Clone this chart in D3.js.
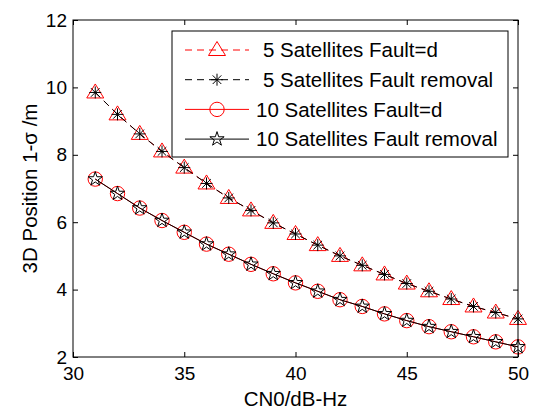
<!DOCTYPE html>
<html>
<head>
<meta charset="utf-8">
<script src="https://cdn.jsdelivr.net/npm/d3@7"></script>
<style>
  body { margin: 0; background: #fff; }
  svg text { font-family: "Liberation Sans", Arial, sans-serif; fill: #000; }
</style>
</head>
<body>
<div id="chart"></div>
<script>
// data
const cn0 = [31, 32, 33, 34, 35, 36, 37, 38, 39, 40, 41, 42, 43, 44, 45, 46, 47, 48, 49, 50];
const sat5Fault = [9.85, 9.2, 8.62, 8.1, 7.62, 7.15, 6.72, 6.35, 5.98, 5.65, 5.32, 5.0, 4.72, 4.45, 4.18, 3.95, 3.72, 3.5, 3.32, 3.13];
const sat5Removal = [9.85, 9.2, 8.62, 8.1, 7.62, 7.15, 6.72, 6.35, 5.98, 5.65, 5.32, 5.0, 4.72, 4.45, 4.18, 3.95, 3.72, 3.5, 3.32, 3.13];
const sat10Fault = [7.28, 6.85, 6.42, 6.05, 5.7, 5.35, 5.05, 4.75, 4.47, 4.2, 3.95, 3.7, 3.5, 3.28, 3.08, 2.9, 2.75, 2.6, 2.45, 2.3];
const sat10Removal = [7.28, 6.85, 6.42, 6.05, 5.7, 5.35, 5.05, 4.75, 4.47, 4.2, 3.95, 3.7, 3.5, 3.28, 3.08, 2.9, 2.75, 2.6, 2.45, 2.3];
const xTicks = [30, 35, 40, 45, 50];
const yTicks = [2, 4, 6, 8, 10, 12];
const seriesNames = ["5 Satellites Fault=d", "5 Satellites Fault removal", "10 Satellites Fault=d", "10 Satellites Fault removal"];

const width = 536, height = 410;
const margin = { left: 73, right: 18, top: 20, bottom: 53 };
const tickFont = 19;
const labelFont = 20.5;

const svg = d3.select("#chart").append("svg")
    .attr("width", width)
    .attr("height", height);

const x = d3.scaleLinear().domain([30, 50]).range([margin.left, width - margin.right]);
const y = d3.scaleLinear().domain([2, 12]).range([height - margin.bottom, margin.top]);

// marker shapes
function triangle(g, color) {
    g.append("path").attr("d", "M0,-8.5L8.5,5.5L-8.5,5.5Z")
        .attr("fill", "none").attr("stroke", color).attr("stroke-width", 1);
}
function asterisk(g, color) {
    g.append("path").attr("d", "M-6,0H6M0,-6V6M-4.3,-4.3L4.3,4.3M-4.3,4.3L4.3,-4.3")
        .attr("fill", "none").attr("stroke", color).attr("stroke-width", 1);
}
function circle(g, color) {
    g.append("circle").attr("r", 7.2)
        .attr("fill", "none").attr("stroke", color).attr("stroke-width", 1);
}
function star(g, color) {
    const R = 7.5, r = R * 0.382;
    const pts = d3.range(10).map(i => {
        const a = -Math.PI / 2 + i * Math.PI / 5;
        const rr = i % 2 ? r : R;
        return [rr * Math.cos(a), rr * Math.sin(a)];
    });
    g.append("path").attr("d", "M" + pts.join("L") + "Z")
        .attr("fill", "none").attr("stroke", color).attr("stroke-width", 1);
}

const series = [
    { name: seriesNames[0], values: sat5Fault, color: "#ff0000", dash: "7,5", marker: triangle, tx: 263 },
    { name: seriesNames[1], values: sat5Removal, color: "#000000", dash: "7,5", marker: asterisk, tx: 263 },
    { name: seriesNames[2], values: sat10Fault, color: "#ff0000", dash: null, marker: circle, tx: 256 },
    { name: seriesNames[3], values: sat10Removal, color: "#000000", dash: null, marker: star, tx: 256 }
];

const line = d3.line().x((d, i) => x(cn0[i])).y(d => y(d));

series.forEach(s => {
    svg.append("path")
        .datum(s.values)
        .attr("d", line)
        .attr("fill", "none")
        .attr("stroke", s.color)
        .attr("stroke-width", 1)
        .attr("stroke-dasharray", s.dash);
    svg.append("g").selectAll("g")
        .data(s.values)
        .join("g")
        .attr("transform", (d, i) => `translate(${x(cn0[i])},${y(d)})`)
        .each(function () { s.marker(d3.select(this), s.color); });
});

// axes with inward ticks
const bottom = svg.append("g")
    .attr("transform", `translate(0,${y(2)})`)
    .call(d3.axisBottom(x).tickValues(xTicks).tickSizeInner(-5).tickSizeOuter(0).tickPadding(10));
const left = svg.append("g")
    .attr("transform", `translate(${x(30)},0)`)
    .call(d3.axisLeft(y).tickValues(yTicks).tickSizeInner(-5).tickSizeOuter(0).tickPadding(6));
svg.append("g")
    .attr("transform", `translate(0,${y(12)})`)
    .call(d3.axisTop(x).tickValues(xTicks).tickSizeInner(-5).tickSizeOuter(0).tickFormat(""));
svg.append("g")
    .attr("transform", `translate(${x(50)},0)`)
    .call(d3.axisRight(y).tickValues(yTicks).tickSizeInner(-5).tickSizeOuter(0).tickFormat(""));

svg.selectAll(".domain").remove();
svg.selectAll(".tick line").attr("stroke", "#000");
[bottom, left].forEach(a => a.selectAll("text")
    .attr("font-size", tickFont)
    .style("font-family", "'Liberation Sans', Arial, sans-serif")
    .attr("fill", "#000"));

svg.append("rect")
    .attr("x", x(30)).attr("y", y(12))
    .attr("width", x(50) - x(30)).attr("height", y(2) - y(12))
    .attr("fill", "none").attr("stroke", "#000").attr("stroke-width", 1);

// axis titles
svg.append("text")
    .attr("x", (x(30) + x(50)) / 2).attr("y", 406)
    .attr("text-anchor", "middle")
    .attr("font-size", labelFont)
    .text("CN0/dB-Hz");

svg.append("text")
    .attr("transform", `translate(37,${(y(2) + y(12)) / 2}) rotate(-90)`)
    .attr("text-anchor", "middle")
    .attr("font-size", labelFont)
    .text("3D Position 1-\u03c3 /m");

// legend
const legend = svg.append("g");
legend.append("rect")
    .attr("x", 172).attr("y", 31).attr("width", 336).attr("height", 126)
    .attr("fill", "#fff").attr("stroke", "#000").attr("stroke-width", 1);

series.forEach((s, i) => {
    const row = legend.append("g").attr("transform", `translate(0,${50 + i * 29.7})`);
    row.append("line")
        .attr("x1", 185).attr("x2", 249)
        .attr("stroke", s.color).attr("stroke-width", 1)
        .attr("stroke-dasharray", s.dash);
    s.marker(row.append("g").attr("transform", "translate(217,0)"), s.color);
    row.append("text")
        .attr("x", s.tx).attr("dy", "0.35em")
        .attr("font-size", labelFont)
        .text(s.name);
});
</script>
</body>
</html>
